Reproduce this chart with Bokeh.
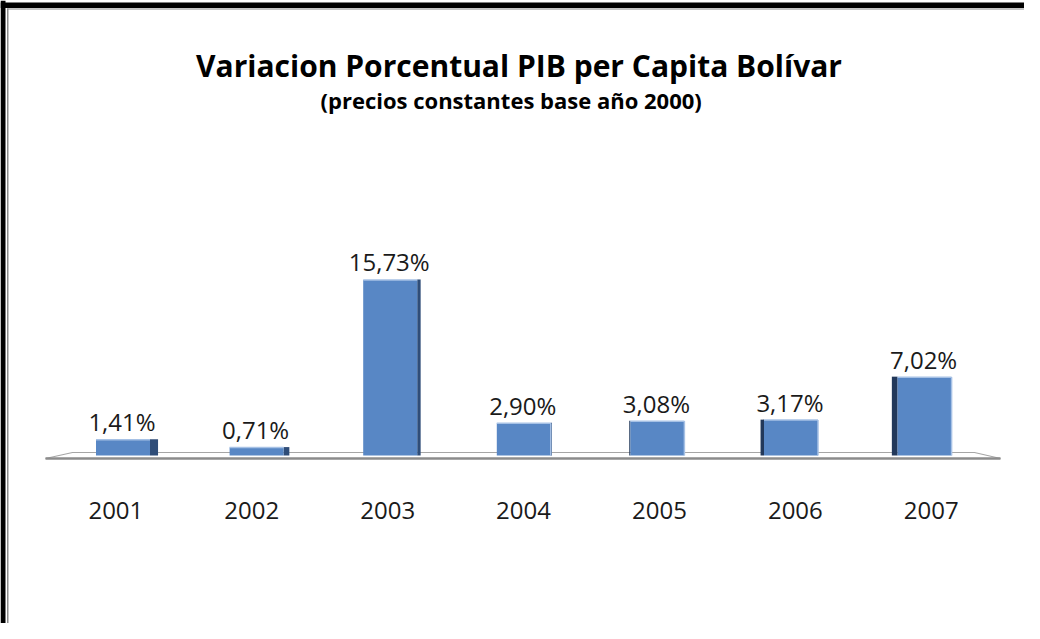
from bokeh.plotting import figure
from bokeh.models import Range1d
from bokeh.core.properties import value
from bokeh.embed import file_html
from bokeh.resources import INLINE

# ---- data ----
years = ["2001", "2002", "2003", "2004", "2005", "2006", "2007"]
pib_var = [1.41, 0.71, 15.73, 2.90, 3.08, 3.17, 7.02]
value_labels = ["1,41%", "0,71%", "15,73%", "2,90%", "3,08%", "3,17%", "7,02%"]
title_text = "Variacion Porcentual PIB per Capita Bolívar"
subtitle_text = "(precios constantes  base año 2000)"

# ---- layout constants ----
W, H = 1024, 623
PX_X = 133.6      # px per category step
PX_Y = 11.16      # px per percentage point
X0_PX = 122.5     # px position of first category
ZERO_PX = 455.0   # px position of value 0 (from top)

x_start = -X0_PX / PX_X
x_end = x_start + W / PX_X
y_end = ZERO_PX / PX_Y
y_start = y_end - H / PX_Y


def fx(px):
    return x_start + px / PX_X


def fy(py):
    return y_end - py / PX_Y


def dx(px):
    return px / PX_X


def dy(py):
    return py / PX_Y


FONT = value("Open Sans")

p = figure(width=W, height=H, x_range=Range1d(x_start, x_end),
           y_range=Range1d(y_start, y_end), output_backend="svg",
           toolbar_location=None, min_border=0,
           x_axis_location=None, y_axis_location=None)
p.xgrid.visible = False
p.ygrid.visible = False
p.outline_line_color = None
p.background_fill_color = "white"
p.border_fill_color = "white"

# ---- frame border (black + thin gray) ----
p.quad(left=[fx(0)], right=[fx(5)], top=[fy(0)], bottom=[fy(H)],
       fill_color="black", line_color=None)
p.quad(left=[fx(0)], right=[fx(W)], top=[fy(2)], bottom=[fy(7.5)],
       fill_color="black", line_color=None)
p.quad(left=[fx(6.5)], right=[fx(8)], top=[fy(8)], bottom=[fy(H)],
       fill_color="#8a8a8a", line_color=None)
p.quad(left=[fx(6.5)], right=[fx(W)], top=[fy(8)], bottom=[fy(9)],
       fill_color="#8a8a8a", line_color=None)

# ---- floor ----
p.patch([fx(45), fx(72), fx(974), fx(1000)], [-dy(3), dy(3), dy(3), -dy(3)],
        fill_color="white", line_color="#a6a6a6", line_width=1.2)
p.line([fx(45), fx(1000)], [-dy(3), -dy(3)], line_color="#8c8c8c", line_width=2.5)

# ---- bars ----
idx = list(range(len(years)))
BAR_W = dx(54)
side_px = [2.3 * (3.5 - i) for i in idx]

s_left, s_right, s_top, s_col = [], [], [], []
for i, v, s in zip(idx, pib_var, side_px):
    if s > 0:
        s_left.append(i + BAR_W / 2)
        s_right.append(i + BAR_W / 2 + dx(s))
        s_col.append("#2f4d78")
    else:
        s_left.append(i - BAR_W / 2 + dx(s))
        s_right.append(i - BAR_W / 2)
        s_col.append("#22385a")
    s_top.append(v + dy(0.5))

p.quad(left=s_left, right=s_right, top=s_top, bottom=[0] * len(idx),
       fill_color=s_col, line_color=None)
p.vbar(x=idx, width=BAR_W, top=pib_var, bottom=0,
       fill_color="#5887c5", line_color=None)
# light top edge
p.segment(x0=[i - BAR_W / 2 for i in idx], x1=[i + BAR_W / 2 for i in idx],
          y0=pib_var, y1=pib_var, line_color="#a6c1e5", line_width=1.5)
# light right edge for bars right of centre
r_idx = [i for i in idx if side_px[i] < 2]
p.segment(x0=[i + BAR_W / 2 for i in r_idx], x1=[i + BAR_W / 2 for i in r_idx],
          y0=[0] * len(r_idx), y1=[pib_var[i] for i in r_idx],
          line_color="#a6c1e5", line_width=1.5)

# ---- value labels ----
p.text(x=[i - dx(1) for i in idx], y=[v + dy(18) for v in pib_var], text=value_labels,
       text_align="center", text_baseline="alphabetic", text_font=FONT,
       text_font_size="24px", text_color="#1a1a1a")

# ---- category labels ----
p.text(x=[i + dx(2.3 * (i - 3.1)) for i in idx], y=[-dy(55)] * len(idx), text=years,
       text_align="center", text_baseline="alphabetic", text_font=FONT,
       text_font_size="24px", text_color="#1a1a1a")

# ---- titles ----
p.text(x=[fx(518.5)], y=[fy(65)], text=[title_text], text_align="center",
       text_baseline="alphabetic", text_font=FONT, text_font_style="bold",
       text_font_size="30px", text_color="black")
p.text(x=[fx(513.5)], y=[fy(99)], text=[subtitle_text], text_align="center",
       text_baseline="alphabetic", text_font=FONT, text_font_style="bold",
       text_font_size="22px", text_color="black")

open("out.html", "w").write(file_html(p, INLINE))
